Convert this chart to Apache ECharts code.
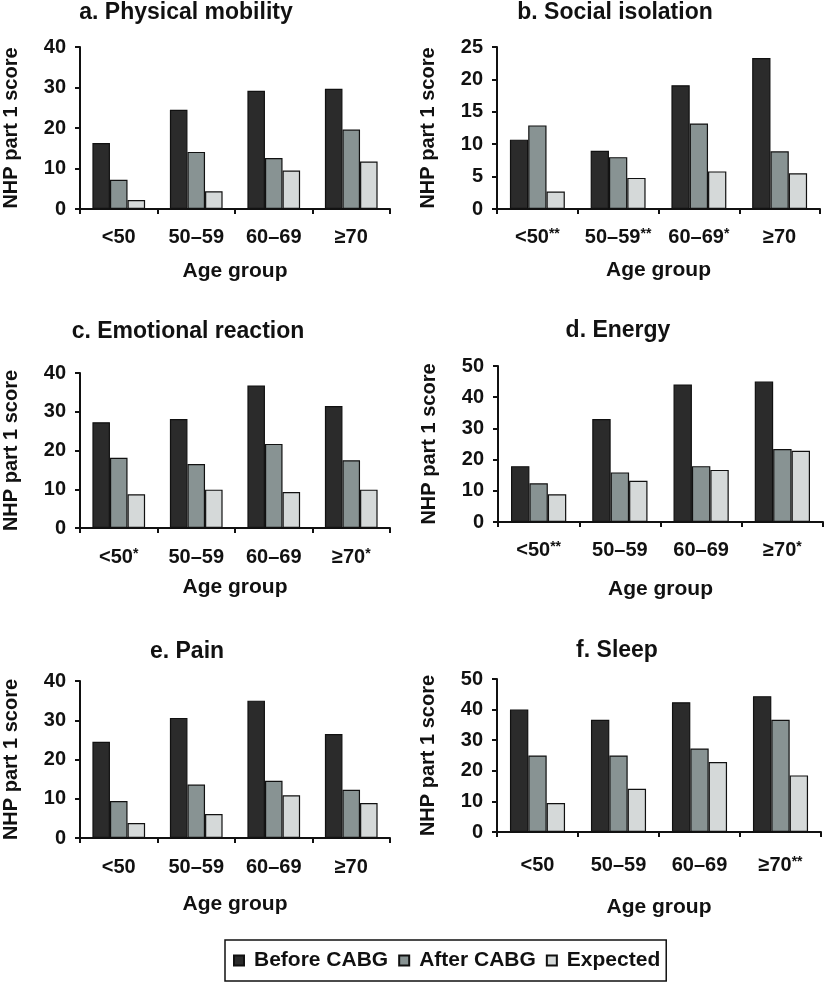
<!DOCTYPE html>
<html><head><meta charset="utf-8">
<script src="https://cdn.jsdelivr.net/npm/echarts@6/dist/echarts.min.js"></script>
<style>html,body{margin:0;padding:0;background:#fff}#c{width:829px;height:983px}</style>
</head><body><div id="c"></div>
<script>
// ---- data ----
const seriesNames = ['Before CABG', 'After CABG', 'Expected'];
const titles = ['a. Physical mobility', 'b. Social isolation', 'c. Emotional reaction', 'd. Energy', 'e. Pain', 'f. Sleep'];

const catsA = ['<50', '50–59', '60–69', '≥70'];
const beforeA = [16.3, 24.5, 29.2, 29.7];
const afterA = [7.2, 14.1, 12.6, 19.6];
const expectedA = [2.2, 4.4, 9.5, 11.7];
const ticksA = [0, 10, 20, 30, 40];

const catsB = ['<50**', '50–59**', '60–69*', '≥70'];
const beforeB = [10.7, 9.0, 19.1, 23.3];
const afterB = [12.9, 8.0, 13.2, 8.9];
const expectedB = [2.7, 4.8, 5.8, 5.5];
const ticksB = [0, 5, 10, 15, 20, 25];

const catsC = ['<50*', '50–59', '60–69', '≥70*'];
const beforeC = [27.3, 28.1, 36.8, 31.5];
const afterC = [18.1, 16.5, 21.7, 17.5];
const expectedC = [8.7, 9.9, 9.3, 9.9];
const ticksC = [0, 10, 20, 30, 40];

const catsD = ['<50**', '50–59', '60–69', '≥70*'];
const beforeD = [17.9, 33.0, 44.1, 45.0];
const afterD = [12.4, 15.9, 17.9, 23.4];
const expectedD = [8.9, 13.2, 16.7, 22.8];
const ticksD = [0, 10, 20, 30, 40, 50];

const catsE = ['<50', '50–59', '60–69', '≥70'];
const beforeE = [24.5, 30.6, 35.0, 26.5];
const afterE = [9.4, 13.6, 14.6, 12.3];
const expectedE = [3.8, 6.1, 10.9, 8.9];
const ticksE = [0, 10, 20, 30, 40];

const catsF = ['<50', '50–59', '60–69', '≥70**'];
const beforeF = [40.0, 36.7, 42.4, 44.4];
const afterF = [25.0, 25.0, 27.3, 36.7];
const expectedF = [9.5, 14.1, 22.9, 18.5];
const ticksF = [0, 10, 20, 30, 40, 50];

const yName = 'NHP part 1 score';
const xName = 'Age group';

// ---- layout/style ----
const FONT = '"Liberation Sans", Arial, sans-serif';
const TXT = '#111';
const colors = ['#2b2b2b', '#889393', '#d5d9d9'];

const panels = [
  {cats: catsA, data: [beforeA, afterA, expectedA], ticks: ticksA, grid: {left: 68, top: 47, width: 322, height: 162}, title: [186, 12.5], lblMargin: 18, nameGap: 52},
  {cats: catsB, data: [beforeB, afterB, expectedB], ticks: ticksB, grid: {left: 497, top: 47, width: 323, height: 162}, title: [615, 12.5], lblMargin: 18, nameGap: 51},
  {cats: catsC, data: [beforeC, afterC, expectedC], ticks: ticksC, grid: {left: 68, top: 373, width: 322, height: 155}, title: [188, 332], lblMargin: 19, nameGap: 49},
  {cats: catsD, data: [beforeD, afterD, expectedD], ticks: ticksD, grid: {left: 498, top: 366, width: 325, height: 156}, title: [618, 331], lblMargin: 18, nameGap: 57},
  {cats: catsE, data: [beforeE, afterE, expectedE], ticks: ticksE, grid: {left: 69, top: 681, width: 321, height: 157}, title: [187, 652], lblMargin: 19, nameGap: 56},
  {cats: catsF, data: [beforeF, afterF, expectedF], ticks: ticksF, grid: {left: 497, top: 679, width: 324, height: 153}, title: [617, 651], lblMargin: 23, nameGap: 65}
];

const option = {
  animation: false,
  backgroundColor: '#fff',
  textStyle: {fontFamily: FONT, fontWeight: 'bold', color: TXT},
  title: [], grid: [], xAxis: [], yAxis: [], series: [],
  legend: {
    data: seriesNames,
    left: 225, top: 940,
    orient: 'horizontal',
    icon: 'rect',
    itemWidth: 10, itemHeight: 10, itemGap: 10,
    padding: [10, 6, 10, 8],
    borderColor: '#111', borderWidth: 1.5,
    textStyle: {fontFamily: FONT, fontWeight: 'bold', fontSize: 21, color: TXT, padding: [0, 0, 0, 5]}
  }
};

panels.forEach((p, i) => {
  option.title.push({
    text: titles[i], left: p.title[0], top: p.title[1], padding: 0,
    textAlign: 'center', textVerticalAlign: 'middle',
    textStyle: {fontFamily: FONT, fontWeight: 'bold', fontSize: 23, color: TXT}
  });
  option.grid.push(Object.assign({containLabel: false}, p.grid));
  option.xAxis.push({
    type: 'category', gridIndex: i, data: p.cats,
    name: xName, nameLocation: 'middle', nameGap: p.nameGap,
    nameTextStyle: {fontFamily: FONT, fontWeight: 'bold', fontSize: 21, color: TXT},
    axisLine: {lineStyle: {color: '#111', width: 2}},
    axisTick: {show: true, length: 5, lineStyle: {color: '#111', width: 2}},
    axisLabel: {
      margin: p.lblMargin, interval: 0, fontFamily: FONT, fontWeight: 'bold', fontSize: 20, color: TXT,
      formatter: v => {
        const m = v.match(/^(.*?)(\*+)$/);
        return m ? m[1] + '{s|' + m[2] + '}' : v;
      },
      rich: {s: {fontFamily: FONT, fontWeight: 'bold', fontSize: 14, color: TXT, verticalAlign: 'top', padding: [0, 0, 6, 0]}}
    },
    splitLine: {show: false}
  });
  const t = p.ticks;
  option.yAxis.push({
    type: 'value', gridIndex: i, min: t[0], max: t[t.length - 1], interval: t[1] - t[0],
    name: yName, nameLocation: 'middle', nameRotate: 90, nameGap: 59,
    nameTextStyle: {fontFamily: FONT, fontWeight: 'bold', fontSize: 20, color: TXT},
    axisLine: {show: true, lineStyle: {color: '#111', width: 2}},
    axisTick: {show: true, length: 5, lineStyle: {color: '#111', width: 2}},
    axisLabel: {margin: 14, fontFamily: FONT, fontWeight: 'bold', fontSize: 20, color: TXT},
    splitLine: {show: false}
  });
  p.data.forEach((d, k) => {
    option.series.push({
      type: 'bar', name: seriesNames[k], xAxisIndex: i, yAxisIndex: i, data: d,
      barGap: '0%', barCategoryGap: '32%',
      itemStyle: {color: colors[k], borderColor: '#111', borderWidth: 1.2}
    });
  });
});

const chart = echarts.init(document.getElementById('c'), null, {renderer: 'canvas'});
chart.setOption(option);
</script>
</body></html>
